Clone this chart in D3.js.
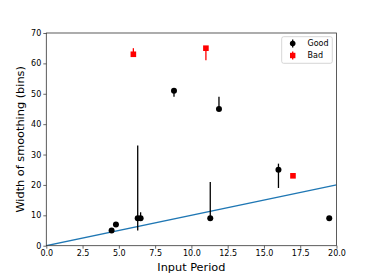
<!DOCTYPE html>
<html><head><meta charset="utf-8">
<script src="https://cdn.jsdelivr.net/npm/d3@7"></script>
<style>body{margin:0;background:#fff}svg{display:block}text{font-family:"DejaVu Sans",sans-serif}</style>
</head><body><svg id="c" width="374" height="276"></svg>
<script>
// Good points
const goodX = [4.5, 4.8, 6.3, 6.5, 8.8, 11.3, 11.9, 16.0, 19.5];
const goodY = [5, 7, 9, 9, 51, 9, 45, 25, 9];
const goodLo = [5, 7, 5, 9, 49, 9, 45, 19, 9];
const goodHi = [5, 7, 33, 11, 51, 21, 49, 27, 9];
// Bad points
const badX = [6.0, 11.0, 17.0];
const badY = [63, 65, 23];
const badLo = [63, 61, 23];
const badHi = [65, 65, 23];
// Reference line y = x
const lineX = [0, 20];
const lineY = [0, 20];
const xTicks = [0, 2.5, 5, 7.5, 10, 12.5, 15, 17.5, 20];
const yTicks = [0, 10, 20, 30, 40, 50, 60, 70];

const svg = d3.select("#c");
const L = 46.3, R = 336.5, T = 33, B = 245.7;
const x = d3.scaleLinear().domain([0, 20]).range([L, R]);
const y = d3.scaleLinear().domain([0, 70]).range([B, T]);

// axes
const xa = svg.append("g").attr("transform", `translate(0,${B})`)
  .call(d3.axisBottom(x).tickValues(xTicks).tickFormat(d3.format(".1f")).tickSize(3).tickPadding(2));
const ya = svg.append("g").attr("transform", `translate(${L},0)`)
  .call(d3.axisLeft(y).tickValues(yTicks).tickFormat(d3.format("d")).tickSize(3).tickPadding(2));
[xa, ya].forEach(a => {
  a.select(".domain").remove();
  a.selectAll("text").attr("font-size", 8).attr("fill", "#000").style("font-family", "DejaVu Sans");
  a.selectAll("line").attr("stroke", "#000").attr("stroke-width", 0.6);
});

// clip
svg.append("clipPath").attr("id", "cp").append("rect").attr("x", L).attr("y", T).attr("width", R - L).attr("height", B - T);

// line
svg.append("path").attr("clip-path", "url(#cp)")
  .datum(lineX.map((d, i) => [d, lineY[i]]))
  .attr("d", d3.line().x(d => x(d[0])).y(d => y(d[1])))
  .attr("fill", "none").attr("stroke", "#1f77b4").attr("stroke-width", 1.3);

const good = goodX.map((d, i) => ({x: d, y: goodY[i], lo: goodLo[i], hi: goodHi[i]}));
const bad = badX.map((d, i) => ({x: d, y: badY[i], lo: badLo[i], hi: badHi[i]}));

svg.append("g").selectAll("line").data(good).join("line")
  .attr("x1", d => x(d.x)).attr("x2", d => x(d.x))
  .attr("y1", d => y(d.lo)).attr("y2", d => y(d.hi))
  .attr("stroke", "#000").attr("stroke-width", 1.3);
svg.append("g").selectAll("circle").data(good).join("circle")
  .attr("cx", d => x(d.x)).attr("cy", d => y(d.y)).attr("r", 3).attr("fill", "#000");

svg.append("g").selectAll("line").data(bad).join("line")
  .attr("x1", d => x(d.x)).attr("x2", d => x(d.x))
  .attr("y1", d => y(d.lo)).attr("y2", d => y(d.hi))
  .attr("stroke", "#ff0000").attr("stroke-width", 1.3);
svg.append("g").selectAll("rect").data(bad).join("rect")
  .attr("x", d => x(d.x) - 2.8).attr("y", d => y(d.y) - 2.8).attr("width", 5.6).attr("height", 5.6).attr("fill", "#ff0000");

// frame
svg.append("rect").attr("x", L).attr("y", T).attr("width", R - L).attr("height", B - T)
  .attr("fill", "none").attr("stroke", "#333").attr("stroke-width", 0.8);

// legend
const lg = svg.append("g");
lg.append("rect").attr("x", 281.7).attr("y", 36.7).attr("width", 50.6).attr("height", 26.6)
  .attr("rx", 2).attr("fill", "#fff").attr("stroke", "#ccc").attr("stroke-width", 0.8);
const items = [{n: "Good", c: "#000", s: "circle"}, {n: "Bad", c: "#ff0000", s: "square"}];
items.forEach((it, i) => {
  const cy = 43.5 + i * 12;
  lg.append("line").attr("x1", 292.7).attr("x2", 292.7).attr("y1", cy - 4).attr("y2", cy + 4)
    .attr("stroke", it.c).attr("stroke-width", 1.3);
  if (it.s === "circle") lg.append("circle").attr("cx", 292.7).attr("cy", cy).attr("r", 2.8).attr("fill", it.c);
  else lg.append("rect").attr("x", 290).attr("y", cy - 2.7).attr("width", 5.4).attr("height", 5.4).attr("fill", it.c);
  lg.append("text").attr("x", 307.5).attr("y", cy).attr("dy", "0.35em").attr("font-size", 8).text(it.n);
});

// axis labels
svg.append("text").attr("x", (L + R) / 2).attr("y", 270.5).attr("text-anchor", "middle")
  .attr("font-size", 11.3).text("Input Period");
svg.append("text").attr("transform", `translate(24,${(T + B) / 2}) rotate(-90)`).attr("text-anchor", "middle")
  .attr("font-size", 11.3).text("Width of smoothing (bins)");
</script></body></html>
